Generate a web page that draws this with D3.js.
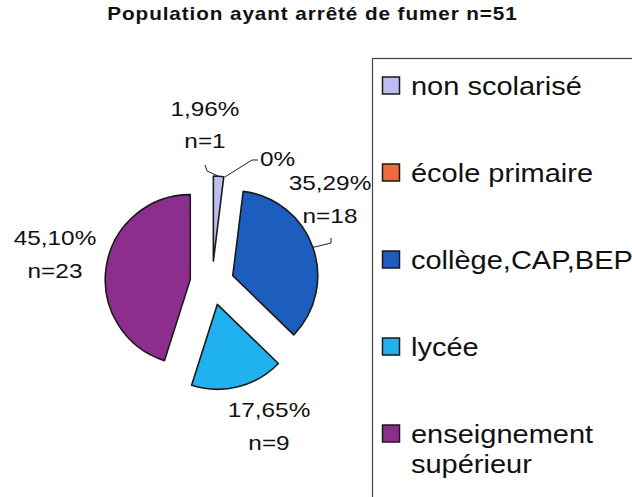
<!DOCTYPE html>
<html>
<head>
<meta charset="utf-8">
<script src="https://cdn.jsdelivr.net/npm/d3@7"></script>
<style>
  html, body { margin: 0; padding: 0; background: #fff; }
  svg { display: block; }
  text { font-family: "Liberation Sans", Arial, sans-serif; fill: #111; }
</style>
</head>
<body>
<div id="chart"></div>
<script>
// ---- data ----
const title = "Population ayant arrêté de fumer n=51";
const categories = ["non scolarisé", "école primaire", "collège,CAP,BEP", "lycée", "enseignement supérieur"];
const legendLines = [["non scolarisé"], ["école primaire"], ["collège,CAP,BEP"], ["lycée"], ["enseignement", "supérieur"]];
const counts = [1, 0, 18, 9, 23];
const pctLabels = ["1,96%", "0%", "35,29%", "17,65%", "45,10%"];
const nLabels = ["n=1", null, "n=18", "n=9", "n=23"];
const colors = ["#bfbcf0", "#f06a3e", "#1d5dbd", "#20b2ee", "#8d2e8e"];

// ---- layout ----
const W = 632, H = 497;
const cx = 212, cy = 283, R = 85, explode = 22;
// label layout: [x, baseline of % line, baseline of n line, anchor]
const labelLayout = [
  [205, 116, 148, "middle"],
  [260, 166, null, "start"],
  [330, 190, 223, "middle"],
  [269, 416.5, 450, "middle"],
  [55, 245, 278, "middle"]
];
// leader lines: elbow points (from slice edge to label)
const leaderElbows = [
  [[207, 171], [205, 165]],
  [[252, 160], [258, 160]],
  [[331, 243], [331, 238]],
  null,
  null
];

const svg = d3.select("#chart").append("svg").attr("width", W).attr("height", H);
svg.append("rect").attr("width", W).attr("height", H).attr("fill", "#fff");

function stext(g, x, y, str, size, sx, anchor, weight, ls) {
  return g.append("text")
    .attr("transform", `translate(${x},${y}) scale(${sx},1)`)
    .attr("text-anchor", anchor || "start")
    .style("font-size", size + "px")
    .style("font-weight", weight || "normal")
    .style("letter-spacing", (ls || 0) + "px")
    .text(str);
}

// title
stext(svg, 312.5, 20, title, 18, 1.15, "middle", "bold", 0.8);

// pie
const pie = d3.pie().sort(null).value(d => d).startAngle(0).endAngle(2 * Math.PI);
const arcs = pie(counts);
const arc = d3.arc().innerRadius(0).outerRadius(R);
const g = svg.append("g").attr("transform", `translate(${cx},${cy})`);

function polar(a, r) { return [Math.sin(a) * r, -Math.cos(a) * r]; }

g.selectAll("path.slice").data(arcs).enter().append("path")
  .attr("class", "slice")
  .attr("d", d => d.value > 0 ? arc(d) : null)
  .attr("transform", d => {
    const [dx, dy] = polar((d.startAngle + d.endAngle) / 2, explode);
    return `translate(${dx},${dy})`;
  })
  .attr("fill", (d, i) => colors[i])
  .attr("stroke", "#1a1a1a")
  .attr("stroke-width", 1.6)
  .attr("stroke-linejoin", "round");

// leader lines
arcs.forEach((d, i) => {
  if (!leaderElbows[i]) return;
  const mid = (d.startAngle + d.endAngle) / 2;
  const [sx0, sy0] = polar(mid, R + explode);
  const pts = [[cx + sx0, cy + sy0]].concat(leaderElbows[i]);
  svg.append("path")
    .attr("d", d3.line()(pts))
    .attr("fill", "none")
    .attr("stroke", "#222")
    .attr("stroke-width", 1);
});

// labels
arcs.forEach((d, i) => {
  const [x, y1, y2, anchor] = labelLayout[i];
  stext(svg, x, y1, pctLabels[i], 21, 1.16, anchor);
  if (nLabels[i]) stext(svg, x, y2, nLabels[i], 21, 1.16, anchor);
});

// legend
svg.append("rect")
  .attr("x", 372.5).attr("y", 58.5).attr("width", 320).attr("height", 500)
  .attr("fill", "#fff").attr("stroke", "#444").attr("stroke-width", 1.2);

const legendStep = 87, legendTop = 85.5;
categories.forEach((c, i) => {
  const yc = legendTop + i * legendStep;
  svg.append("rect")
    .attr("x", 382.5).attr("y", yc - 8.5).attr("width", 17).attr("height", 17)
    .attr("fill", colors[i]).attr("stroke", "#1a1a1a").attr("stroke-width", 1.5);
  const t = svg.append("text")
    .attr("transform", `translate(411,${yc + 9.5}) scale(1.16,1)`)
    .style("font-size", "25px");
  legendLines[i].forEach((line, j) => {
    t.append("tspan").attr("x", 0).attr("dy", j === 0 ? 0 : 30).text(line);
  });
});
</script>
</body>
</html>
